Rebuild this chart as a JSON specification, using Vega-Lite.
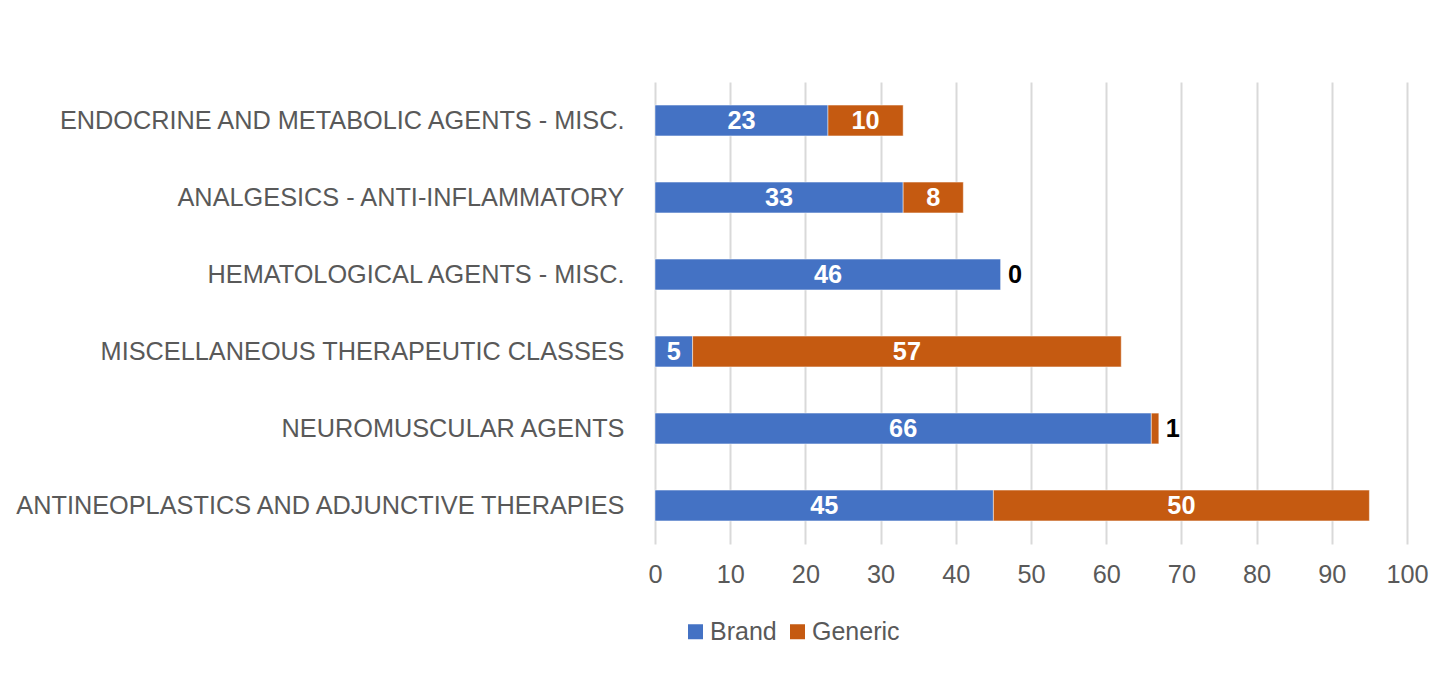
{
  "$schema": "https://vega.github.io/schema/vega-lite/v6.json",
  "autosize": "none",
  "width": 752,
  "height": 462,
  "padding": {"left": 655, "top": 82, "right": 35, "bottom": 156},
  "background": "#ffffff",
  "config": {
    "font": "Liberation Sans",
    "view": {"stroke": null}
  },
  "data": {
    "values": [
      {"category": "ENDOCRINE AND METABOLIC AGENTS - MISC.", "type": "Brand", "value": 23},
      {"category": "ENDOCRINE AND METABOLIC AGENTS - MISC.", "type": "Generic", "value": 10},
      {"category": "ANALGESICS - ANTI-INFLAMMATORY", "type": "Brand", "value": 33},
      {"category": "ANALGESICS - ANTI-INFLAMMATORY", "type": "Generic", "value": 8},
      {"category": "HEMATOLOGICAL AGENTS - MISC.", "type": "Brand", "value": 46},
      {"category": "HEMATOLOGICAL AGENTS - MISC.", "type": "Generic", "value": 0},
      {"category": "MISCELLANEOUS THERAPEUTIC CLASSES", "type": "Brand", "value": 5},
      {"category": "MISCELLANEOUS THERAPEUTIC CLASSES", "type": "Generic", "value": 57},
      {"category": "NEUROMUSCULAR AGENTS", "type": "Brand", "value": 66},
      {"category": "NEUROMUSCULAR AGENTS", "type": "Generic", "value": 1},
      {"category": "ANTINEOPLASTICS AND ADJUNCTIVE THERAPIES", "type": "Brand", "value": 45},
      {"category": "ANTINEOPLASTICS AND ADJUNCTIVE THERAPIES", "type": "Generic", "value": 50}
    ]
  },
  "transform": [
    {"stack": "value", "groupby": ["category"], "sort": [{"field": "type", "order": "ascending"}], "as": ["x0", "x1"]}
  ],
  "encoding": {
    "y": {
      "field": "category",
      "type": "nominal",
      "sort": [
        "ENDOCRINE AND METABOLIC AGENTS - MISC.",
        "ANALGESICS - ANTI-INFLAMMATORY",
        "HEMATOLOGICAL AGENTS - MISC.",
        "MISCELLANEOUS THERAPEUTIC CLASSES",
        "NEUROMUSCULAR AGENTS",
        "ANTINEOPLASTICS AND ADJUNCTIVE THERAPIES"
      ],
      "scale": {"paddingInner": 0.6, "paddingOuter": 0.3},
      "axis": {
        "title": null,
        "domain": false,
        "ticks": false,
        "labelFont": "Liberation Sans",
        "labelFontSize": 25.3,
        "labelColor": "#595959",
        "labelPadding": 31,
        "labelLimit": 700
      }
    }
  },
  "layer": [
    {
      "mark": {"type": "bar", "stroke": "#ffffff", "strokeWidth": 0.8, "strokeOpacity": 0.6},
      "encoding": {
        "x": {
          "field": "x0",
          "type": "quantitative",
          "scale": {"domain": [0, 100], "nice": false},
          "axis": {
            "title": null,
            "values": [0, 10, 20, 30, 40, 50, 60, 70, 80, 90, 100],
            "grid": true,
            "gridColor": "#d9d9d9",
            "gridWidth": 2,
            "domain": false,
            "ticks": false,
            "labelFlush": false,
            "labelBound": false,
            "labelOverlap": false,
            "labelFont": "Liberation Sans",
            "labelFontSize": 25.3,
            "labelColor": "#595959",
            "labelPadding": 18
          }
        },
        "x2": {"field": "x1"},
        "color": {
          "field": "type",
          "type": "nominal",
          "scale": {"domain": ["Brand", "Generic"], "range": ["#4472C4", "#C55A11"]},
          "legend": {
            "title": null,
            "orient": "none",
            "direction": "horizontal",
            "legendX": 28,
            "legendY": 537,
            "symbolType": "square",
            "symbolSize": 225,
            "symbolStrokeWidth": 0,
            "labelFont": "Liberation Sans",
            "labelFontSize": 25,
            "labelColor": "#595959",
            "labelOffset": 2,
            "columnPadding": 8
          }
        }
      }
    },
    {
      "transform": [
        {"filter": "datum.value >= 3"},
        {"fold": ["x0", "x1"], "as": ["edge", "pos"]}
      ],
      "mark": {"type": "text", "color": "#ffffff", "fontWeight": "bold", "fontSize": 25.3, "font": "Liberation Sans", "align": "center", "baseline": "middle"},
      "encoding": {
        "x": {"field": "pos", "aggregate": "mean", "type": "quantitative"},
        "detail": {"field": "type"},
        "text": {"field": "value", "aggregate": "max", "type": "quantitative"}
      }
    },
    {
      "transform": [{"filter": "datum.value < 3"}],
      "mark": {"type": "text", "color": "#000000", "fontWeight": "bold", "fontSize": 25.3, "font": "Liberation Sans", "align": "left", "baseline": "middle", "dx": 7},
      "encoding": {
        "x": {"field": "x1", "type": "quantitative"},
        "text": {"field": "value", "type": "quantitative"}
      }
    }
  ]
}
